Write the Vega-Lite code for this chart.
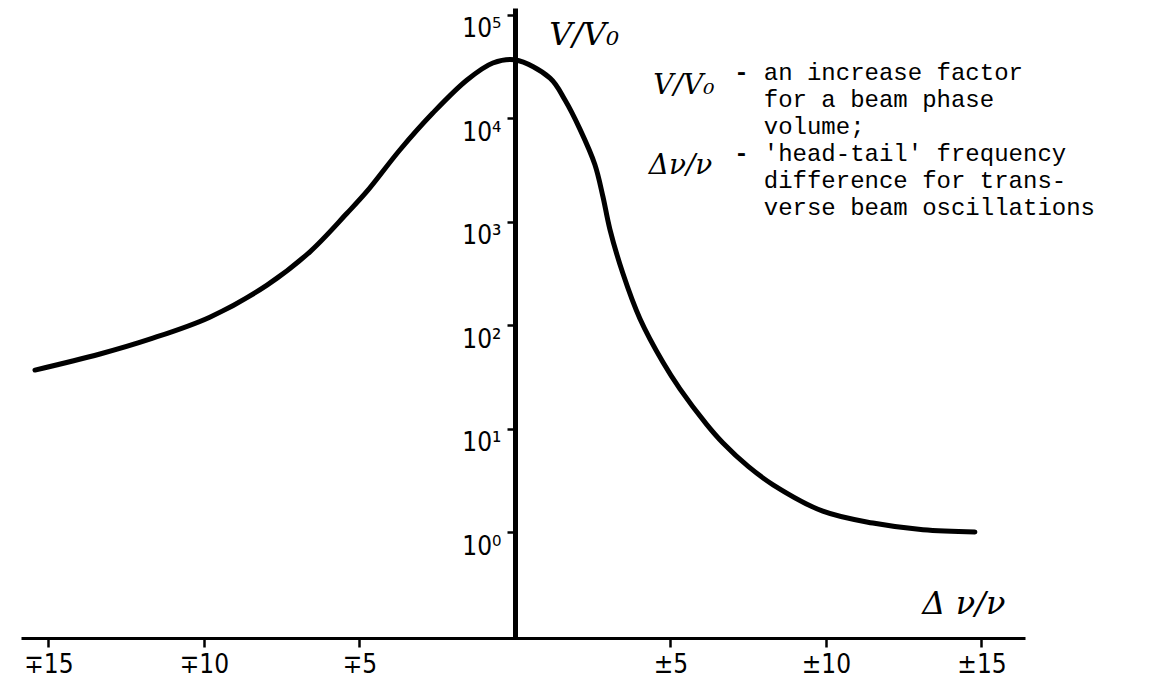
{
  "$schema": "https://vega.github.io/schema/vega-lite/v6.json",
  "width": 1004,
  "height": 630,
  "autosize": {"type": "none"},
  "padding": {"left": 21, "top": 8, "right": 125, "bottom": 46},
  "background": "white",
  "config": {"view": {"stroke": null}, "axis": {"grid": false}},
  "datasets": {
    "curve": [
      {"dv": -15.43, "ratio": 36.7},
      {"dv": -13.34, "ratio": 52.5},
      {"dv": -11.74, "ratio": 73},
      {"dv": -9.81, "ratio": 119},
      {"dv": -7.97, "ratio": 243},
      {"dv": -6.59, "ratio": 510},
      {"dv": -5.4, "ratio": 1200},
      {"dv": -4.76, "ratio": 1950},
      {"dv": -3.7, "ratio": 4910},
      {"dv": -2.64, "ratio": 11170},
      {"dv": -1.54, "ratio": 23300},
      {"dv": -0.71, "ratio": 34000},
      {"dv": 0, "ratio": 36500},
      {"dv": 1.13, "ratio": 24300},
      {"dv": 1.61, "ratio": 14900},
      {"dv": 2.09, "ratio": 7800},
      {"dv": 2.57, "ratio": 3550},
      {"dv": 2.83, "ratio": 1740},
      {"dv": 3.05, "ratio": 851},
      {"dv": 3.47, "ratio": 316},
      {"dv": 4.02, "ratio": 115},
      {"dv": 4.76, "ratio": 43.6},
      {"dv": 5.31, "ratio": 24},
      {"dv": 6.17, "ratio": 10.9},
      {"dv": 6.69, "ratio": 7.24},
      {"dv": 7.5, "ratio": 4.3},
      {"dv": 8.3, "ratio": 2.86},
      {"dv": 9.9, "ratio": 1.59},
      {"dv": 11.51, "ratio": 1.22},
      {"dv": 13.12, "ratio": 1.05},
      {"dv": 14.79, "ratio": 1.0}
    ],
    "notes": [
      {"t": "an increase factor", "dv": 8.0, "ratio": 27200},
      {"t": "for a beam phase", "dv": 8.0, "ratio": 14930},
      {"t": "volume;", "dv": 8.0, "ratio": 8190},
      {"t": "'head-tail' frequency", "dv": 8.0, "ratio": 4490},
      {"t": "difference for trans-", "dv": 8.0, "ratio": 2462},
      {"t": "verse beam oscillations", "dv": 8.0, "ratio": 1350}
    ],
    "dashes": [
      {"t": "-", "dv": 7.05, "ratio": 27200},
      {"t": "-", "dv": 7.05, "ratio": 4490}
    ],
    "symbols": [
      {"t": "V/V₀", "dv": 4.45, "ratio": 20400},
      {"t": "Δν/ν", "dv": 4.3, "ratio": 3440}
    ],
    "titles": [
      {"t": "V/V₀", "dv": 1.1, "ratio": 63000},
      {"t": "Δ ν/ν", "dv": 13.1, "ratio": 0.2}
    ]
  },
  "layer": [
    {
      "data": {"name": "curve"},
      "mark": {"type": "line", "interpolate": "catmull-rom", "color": "black", "strokeWidth": 5, "strokeCap": "round"},
      "encoding": {
        "x": {
          "field": "dv", "type": "quantitative",
          "scale": {"domain": [-15.88, 16.4], "nice": false, "zero": false},
          "axis": {
            "orient": "bottom", "title": null,
            "values": [-15, -10, -5, 5, 10, 15],
            "labelExpr": "datum.value < 0 ? '∓' + abs(datum.value) : '±' + datum.value",
            "domainColor": "black", "domainWidth": 3,
            "tickColor": "black", "tickWidth": 2.5, "tickSize": 9,
            "labelColor": "black", "labelFontSize": 26, "labelPadding": 4,
            "labelFont": "Liberation Sans Narrow, DejaVu Sans Condensed, Liberation Sans"
          }
        },
        "y": {
          "field": "ratio", "type": "quantitative",
          "scale": {"type": "log", "domain": [0.0946, 115600], "nice": false},
          "axis": {
            "orient": "left", "offset": -494, "title": null,
            "values": [1, 10, 100, 1000, 10000, 100000],
            "labelExpr": "'10' + ['⁰','¹','²','³','⁴','⁵'][round(log(datum.value)/LN10)]",
            "domainColor": "black", "domainWidth": 5,
            "tickColor": "black", "tickWidth": 2.5, "tickSize": 8,
            "labelColor": "black", "labelFontSize": 26, "labelPadding": 6, "labelOffset": 14,
            "labelFont": "Liberation Sans Narrow, DejaVu Sans Condensed, Liberation Sans"
          }
        }
      }
    },
    {
      "data": {"name": "notes"},
      "mark": {"type": "text", "align": "left", "baseline": "middle", "font": "Liberation Mono", "fontSize": 24, "color": "black"},
      "encoding": {
        "x": {"field": "dv", "type": "quantitative"},
        "y": {"field": "ratio", "type": "quantitative"},
        "text": {"field": "t"}
      }
    },
    {
      "data": {"name": "dashes"},
      "mark": {"type": "text", "align": "left", "baseline": "middle", "font": "Liberation Mono", "fontSize": 24, "fontWeight": "bold", "color": "black"},
      "encoding": {
        "x": {"field": "dv", "type": "quantitative"},
        "y": {"field": "ratio", "type": "quantitative"},
        "text": {"field": "t"}
      }
    },
    {
      "data": {"name": "symbols"},
      "mark": {"type": "text", "align": "left", "baseline": "middle", "font": "DejaVu Serif", "fontStyle": "italic", "fontSize": 28, "color": "black"},
      "encoding": {
        "x": {"field": "dv", "type": "quantitative"},
        "y": {"field": "ratio", "type": "quantitative"},
        "text": {"field": "t"}
      }
    },
    {
      "data": {"name": "titles"},
      "mark": {"type": "text", "align": "left", "baseline": "middle", "font": "DejaVu Serif", "fontStyle": "italic", "fontSize": 32, "color": "black"},
      "encoding": {
        "x": {"field": "dv", "type": "quantitative"},
        "y": {"field": "ratio", "type": "quantitative"},
        "text": {"field": "t"}
      }
    }
  ]
}
